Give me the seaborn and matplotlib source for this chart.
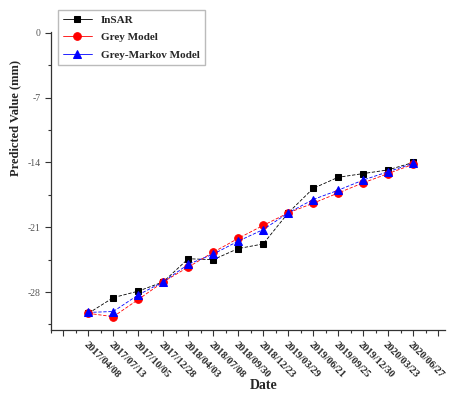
import numpy as np
import pandas as pd
import seaborn as sns
import matplotlib
matplotlib.use("Agg")
import matplotlib.pyplot as plt
from matplotlib.ticker import MultipleLocator

dates = ["2017/04/08", "2017/07/13", "2017/10/05", "2017/12/28", "2018/04/03",
         "2018/07/08", "2018/09/30", "2018/12/23", "2019/03/29", "2019/06/21",
         "2019/09/25", "2019/12/30", "2020/03/23", "2020/06/27"]
insar = [-30.3, -28.6, -27.9, -26.9, -24.4, -24.5, -23.3, -22.8, -19.45, -16.8,
         -15.6, -15.2, -14.8, -14.0]
grey = [-30.3, -30.66, -28.8, -26.9, -25.3, -23.7, -22.2, -20.8, -19.45, -18.4,
        -17.3, -16.2, -15.2, -14.2]
grey_markov = [-30.2, -30.1, -28.3, -26.9, -25.0, -23.9, -22.5, -21.25, -19.45, -18.0,
               -17.0, -15.9, -15.0, -14.1]

sns.set_style("ticks")
plt.rcParams["font.family"] = ["Liberation Serif", "DejaVu Serif"]

idx = np.arange(len(dates))
df = pd.DataFrame({"idx": idx, "InSAR": insar, "Grey Model": grey,
                   "Grey-Markov Model": grey_markov})

fig = plt.figure(figsize=(4.5, 3.94), dpi=100)
ax = fig.add_axes([0.113, 0.1624, 0.877, 0.7564])

styles = [("InSAR", "black", "s", 5), ("Grey Model", "red", "o", 5.5),
          ("Grey-Markov Model", "blue", "^", 5.5)]
for name, col, mk, ms in styles:
    sns.lineplot(data=df, x="idx", y=name, ax=ax, color=col, marker=mk,
                 markersize=ms, markeredgecolor=col, linewidth=0.6,
                 linestyle=(0, (4, 2)), label=name, alpha=1)

ax.set_xlim(-1.5, 14.3)
ax.set_ylim(-32.1, 0.1)
major_x = list(range(-1, 15))
ax.set_xticks(major_x)
ax.set_xticklabels([""] + dates + [""], rotation=-45, ha="left", va="top",
                   rotation_mode="anchor", fontsize=7.5, fontweight="bold")
ax.xaxis.set_minor_locator(MultipleLocator(0.5))
ax.set_yticks([0, -7, -14, -21, -28])
ax.set_yticklabels(["0", "-7", "-14", "-21", "-28"], fontsize=7, color="#555555")
ax.yaxis.set_minor_locator(MultipleLocator(3.5))
ax.tick_params(axis="both", which="major", direction="out", length=4, width=0.8, color="#333333")
ax.tick_params(axis="both", which="minor", direction="out", length=2.5, width=0.8, color="#333333")
ax.tick_params(axis="x", which="major", pad=3)
for s in ["top", "right"]:
    ax.spines[s].set_visible(False)
for s in ["left", "bottom"]:
    ax.spines[s].set_color("#333333")
    ax.spines[s].set_linewidth(0.9)

ax.set_xlabel("Date", fontsize=10, fontweight="bold", va="center")
ax.xaxis.set_label_coords(0.54, -0.185)
ax.set_ylabel("Predicted Value (mm)", fontsize=9, fontweight="bold", va="center")
ax.yaxis.set_label_coords(-0.091, 0.71)

leg = ax.legend(loc="upper left", bbox_to_anchor=(0.129, 0.975), bbox_transform=fig.transFigure,
                borderaxespad=0, frameon=True, fancybox=False, edgecolor="#aaaaaa",
                prop={"size": 8, "weight": "bold"}, handlelength=2.6, labelspacing=0.7,
                borderpad=0.45)
for line in leg.get_lines():
    line.set_linestyle("-")

fig.savefig("out.png", dpi=100)
